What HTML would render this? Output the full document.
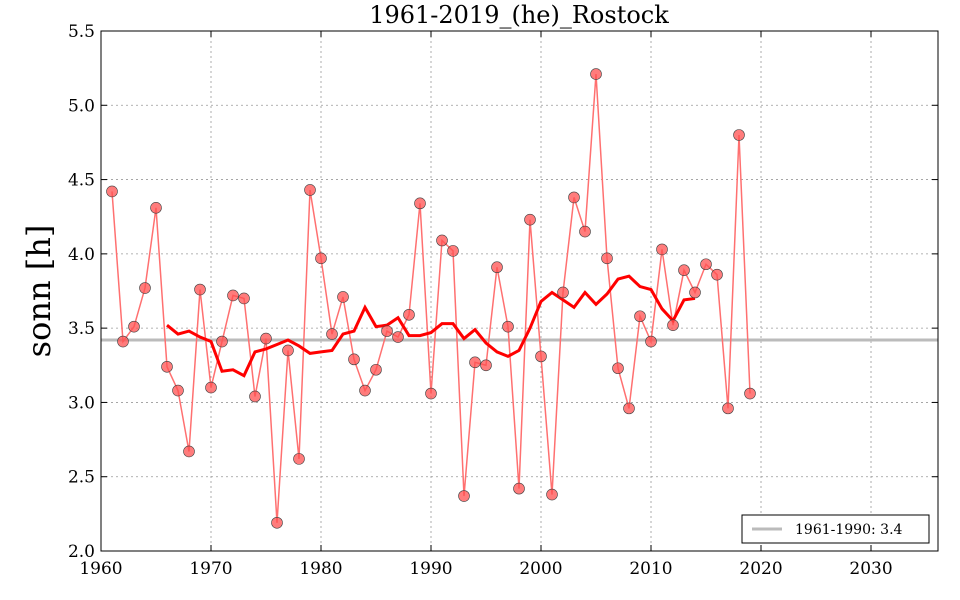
<!DOCTYPE html>
<html><head><meta charset="utf-8"><style>
body{margin:0;background:#fff;}
svg{display:block;font-family:"DejaVu Serif","Liberation Serif",serif;}
</style></head><body>
<svg id="chart" width="960" height="600" viewBox="0 0 960 600" xmlns="http://www.w3.org/2000/svg">
<text x="519" y="23" font-size="24" text-anchor="middle">1961-2019_(he)_Rostock</text>
<text transform="translate(50,291) rotate(-90)" font-size="32" text-anchor="middle">sonn [h]</text>
<g id="grid"></g>
<g id="marks"></g>
<rect x="101" y="31" width="837" height="520" fill="none" stroke="#000" stroke-width="1"/>
<g id="ticks"></g>
<g>
<rect x="742" y="515" width="187" height="28" fill="#fff" stroke="#000" stroke-width="1"/>
<line x1="752" y1="529" x2="782" y2="529" stroke="#bbb" stroke-width="3"/>
<text x="795" y="534" font-size="14">1961-1990: 3.4</text>
</g>
</svg>
<script>
const years=[1961,1962,1963,1964,1965,1966,1967,1968,1969,1970,1971,1972,1973,1974,1975,1976,1977,1978,1979,1980,1981,1982,1983,1984,1985,1986,1987,1988,1989,1990,1991,1992,1993,1994,1995,1996,1997,1998,1999,2000,2001,2002,2003,2004,2005,2006,2007,2008,2009,2010,2011,2012,2013,2014,2015,2016,2017,2018,2019];
const values=[4.42,3.41,3.51,3.77,4.31,3.24,3.08,2.67,3.76,3.10,3.41,3.72,3.70,3.04,3.43,2.19,3.35,2.62,4.43,3.97,3.46,3.71,3.29,3.08,3.22,3.48,3.44,3.59,4.34,3.06,4.09,4.02,2.37,3.27,3.25,3.91,3.51,2.42,4.23,3.31,2.38,3.74,4.38,4.15,5.21,3.97,3.23,2.96,3.58,3.41,4.03,3.52,3.89,3.74,3.93,3.86,2.96,4.80,3.06];
const avgYears=[1966,1967,1968,1969,1970,1971,1972,1973,1974,1975,1976,1977,1978,1979,1980,1981,1982,1983,1984,1985,1986,1987,1988,1989,1990,1991,1992,1993,1994,1995,1996,1997,1998,1999,2000,2001,2002,2003,2004,2005,2006,2007,2008,2009,2010,2011,2012,2013,2014];
const avgValues=[3.52,3.46,3.48,3.44,3.41,3.21,3.22,3.18,3.34,3.36,3.39,3.42,3.38,3.33,3.34,3.35,3.46,3.48,3.64,3.51,3.52,3.57,3.45,3.45,3.47,3.53,3.53,3.43,3.49,3.40,3.34,3.31,3.35,3.50,3.68,3.74,3.69,3.64,3.74,3.66,3.73,3.83,3.85,3.78,3.76,3.63,3.55,3.69,3.70];
const baseline=3.42;
const xTicks=[1960,1970,1980,1990,2000,2010,2020,2030];
const yTicks=[2.0,2.5,3.0,3.5,4.0,4.5,5.0,5.5];
const X0=101,X1=938,Y0=551,Y1=31,XMIN=1960,XMAX=2036.09,YMIN=2.0,YMAX=5.5;
const xs=v=>X0+(v-XMIN)/(XMAX-XMIN)*(X1-X0);
const ys=v=>Y0-(v-YMIN)/(YMAX-YMIN)*(Y0-Y1);
const NS="http://www.w3.org/2000/svg";
function mk(tag,attrs,parent){const e=document.createElementNS(NS,tag);for(const k in attrs)e.setAttribute(k,attrs[k]);parent.appendChild(e);return e;}
const grid=document.getElementById('grid'),marks=document.getElementById('marks'),ticks=document.getElementById('ticks');
xTicks.forEach(t=>{const x=xs(t);
 const g=mk('line',{x1:x,x2:x,y1:Y1,y2:Y0,stroke:'#999','stroke-dasharray':'2,3','stroke-width':0.8},grid);
 
 mk('line',{x1:x,x2:x,y1:Y0,y2:Y0-6,stroke:'#000'},ticks);mk('line',{x1:x,x2:x,y1:Y1,y2:Y1+6,stroke:'#000'},ticks);
 const l=mk('text',{x:x,y:Y0+23,'font-size':17,'text-anchor':'middle'},ticks);l.textContent=t;
 });
yTicks.forEach(t=>{const y=ys(t);
 const g=mk('line',{x1:X0,x2:X1,y1:y,y2:y,stroke:'#999','stroke-dasharray':'2,3','stroke-width':0.8},grid);
 
 mk('line',{x1:X0,x2:X0+6,y1:y,y2:y,stroke:'#000'},ticks);mk('line',{x1:X1,x2:X1-6,y1:y,y2:y,stroke:'#000'},ticks);
 const l=mk('text',{x:X0-6,y:y+6,'font-size':17,'text-anchor':'end'},ticks);l.textContent=t.toFixed(1);
 });
const bl=mk('line',{x1:X0,x2:X1,y1:ys(baseline),y2:ys(baseline),stroke:'#bbb','stroke-width':3},marks);

const ln=mk('polyline',{points:years.map((y,i)=>xs(y)+','+ys(values[i])).join(' '),fill:'none',stroke:'#ff7070','stroke-width':1.5},marks);

const av=mk('polyline',{points:avgYears.map((y,i)=>xs(y)+','+ys(avgValues[i])).join(' '),fill:'none',stroke:'#ff0000','stroke-width':3},marks);

years.forEach((y,i)=>{const c=mk('circle',{cx:xs(y),cy:ys(values[i]),r:5.5,fill:'#ff5050','fill-opacity':0.75,stroke:'#444','stroke-width':0.6},marks);
 });
</script>
</body></html>
